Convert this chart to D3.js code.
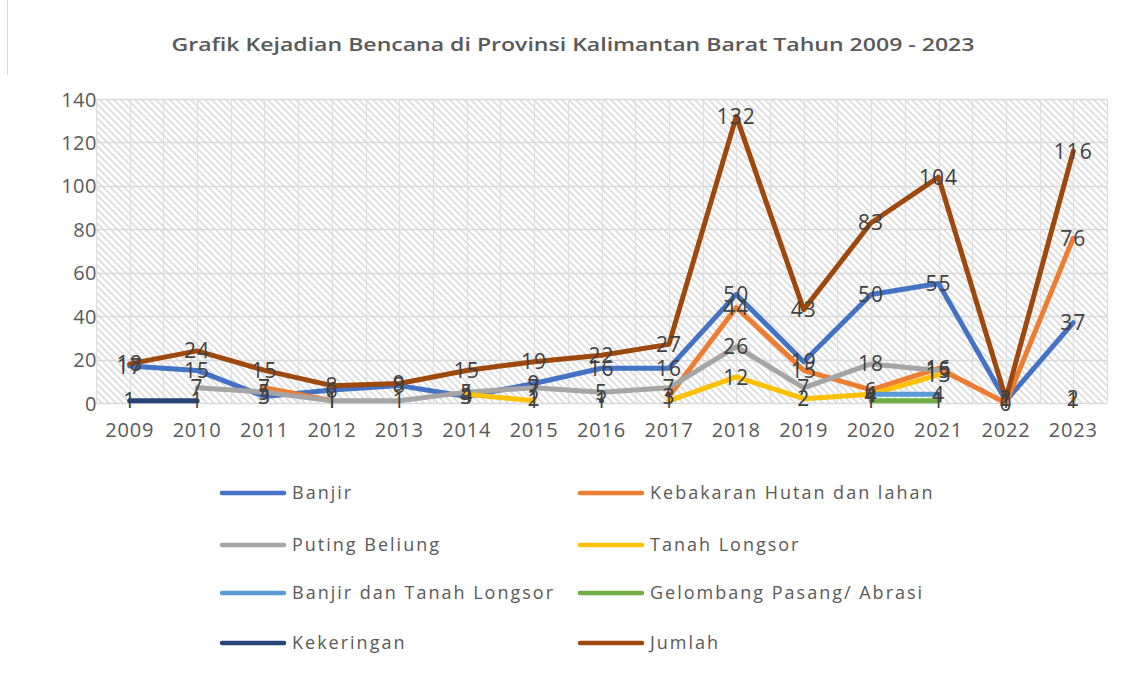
<!DOCTYPE html>
<html>
<head>
<meta charset="utf-8">
<script src="https://cdn.jsdelivr.net/npm/d3@7"></script>
<style>
  html, body { margin: 0; padding: 0; background: #fff; }
  svg text { font-family: "Open Sans", "Noto Sans", sans-serif; }
</style>
</head>
<body>
<svg id="chart" width="1129" height="680"></svg>
<script>
const title = "Grafik Kejadian Bencana di Provinsi Kalimantan Barat Tahun 2009 - 2023";
const years = ["2009","2010","2011","2012","2013","2014","2015","2016","2017","2018","2019","2020","2021","2022","2023"];
const yTicks = [0, 20, 40, 60, 80, 100, 120, 140];

const seriesNames = ["Banjir", "Kebakaran Hutan dan lahan", "Puting Beliung", "Tanah Longsor",
  "Banjir dan Tanah Longsor", "Gelombang Pasang/ Abrasi", "Kekeringan", "Jumlah"];
const seriesColors = ["#4472C4", "#ED7D31", "#A5A5A5", "#FFC000", "#5B9BD5", "#70AD47", "#264478", "#9E480E"];

const banjir          = [17, 15, 3, 6, 8, 3, 9, 16, 16, 50, 19, 50, 55, 1, 37];
const kebakaran       = [null, null, 7, 1, null, null, 2, null, 3, 44, 15, 6, 16, 0, 76];
const putingBeliung   = [null, 7, 5, 1, 1, 5, 7, 5, 7, 26, 7, 18, 15, null, 1];
const tanahLongsor    = [null, null, null, null, null, 4, 1, null, 1, 12, 2, 4, 13, null, 2];
const banjirTanahLongsor = [null, null, null, null, null, null, null, null, null, null, null, 4, 4, null, null];
const gelombang       = [null, null, null, null, null, null, null, null, null, null, null, 1, 1, null, null];
const kekeringan      = [1, 1, null, null, null, null, null, 1, null, null, null, null, null, null, null];
const jumlah          = [18, 24, 15, 8, 9, 15, 19, 22, 27, 132, 43, 83, 104, 2, 116];

const seriesValues = [banjir, kebakaran, putingBeliung, tanahLongsor, banjirTanahLongsor, gelombang, kekeringan, jumlah];

const svg = d3.select("#chart");
const plot = { left: 96, right: 1107, top: 99, bottom: 403 };

const x = d3.scaleBand().domain(years).range([plot.left, plot.right]).paddingInner(0).paddingOuter(0);
const y = d3.scaleLinear().domain([0, 140]).range([plot.bottom, plot.top]);
const cx = d => x(d) + x.bandwidth() / 2;

// left border line
svg.append("line").attr("x1", 7.5).attr("x2", 7.5).attr("y1", 0).attr("y2", 75)
  .attr("stroke", "#d9d9d9").attr("stroke-width", 1);

// title
svg.append("text").attr("x", 573).attr("y", 51).attr("text-anchor", "middle")
  .attr("font-size", 18).attr("fill", "#595959").attr("font-weight", 600)
  .attr("textLength", 803).attr("lengthAdjust", "spacingAndGlyphs")
  .text(title);

// hatch pattern
const defs = svg.append("defs");
const pat = defs.append("pattern").attr("id", "hatch").attr("patternUnits", "userSpaceOnUse")
  .attr("width", 7).attr("height", 7);
pat.append("rect").attr("width", 7).attr("height", 7).attr("fill", "#ffffff");
pat.append("path").attr("d", "M-1,-1 L8,8 M-1,6 L1,8 M6,-1 L8,1")
  .attr("stroke", "#dcdcdc").attr("stroke-width", 1.6);

svg.append("rect").attr("x", plot.left).attr("y", plot.top)
  .attr("width", plot.right - plot.left).attr("height", plot.bottom - plot.top)
  .attr("fill", "url(#hatch)");

// gridlines
const grid = svg.append("g");
yTicks.forEach(t => {
  grid.append("line").attr("x1", plot.left).attr("x2", plot.right)
    .attr("y1", Math.round(y(t)) + 0.5).attr("y2", Math.round(y(t)) + 0.5)
    .attr("stroke", "#d9d9d9").attr("stroke-width", 1.3);
});
const vx = [];
years.forEach(yr => { vx.push(x(yr)); vx.push(cx(yr)); });
vx.push(plot.right);
vx.forEach(v => {
  grid.append("line").attr("x1", Math.round(v) + 0.5).attr("x2", Math.round(v) + 0.5)
    .attr("y1", plot.top).attr("y2", plot.bottom)
    .attr("stroke", "#dedede").attr("stroke-width", 1.2);
});

// axes
const yAxis = svg.append("g").attr("transform", `translate(${plot.left + 1},0)`)
  .call(d3.axisLeft(y).tickValues(yTicks).tickSize(0).tickPadding(0));
yAxis.select(".domain").remove();
yAxis.selectAll("text").attr("font-size", 20).attr("fill", "#595959")
  .attr("font-family", "Open Sans, sans-serif").attr("dy", "0.35em").attr("letter-spacing", 0.5);

const xAxis = svg.append("g").attr("transform", `translate(0,${plot.bottom})`)
  .call(d3.axisBottom(x).tickSize(0).tickPadding(0));
xAxis.select(".domain").remove();
xAxis.selectAll("text").attr("font-size", 20).attr("fill", "#595959")
  .attr("font-family", "Open Sans, sans-serif").attr("y", 34).attr("dy", "0").attr("letter-spacing", 0.8);

// lines
const lineGen = d3.line()
  .defined(d => d.v !== null)
  .x(d => cx(d.year))
  .y(d => y(d.v));

const lines = svg.append("g");
seriesValues.forEach((vals, i) => {
  const data = years.map((yr, j) => ({ year: yr, v: vals[j] }));
  lines.append("path").datum(data)
    .attr("d", lineGen)
    .attr("fill", "none")
    .attr("stroke", seriesColors[i])
    .attr("stroke-width", 5)
    .attr("stroke-linejoin", "round")
    .attr("stroke-linecap", "round");
});

// data labels
const labels = svg.append("g");
seriesValues.forEach((vals, i) => {
  years.forEach((yr, j) => {
    if (vals[j] === null) return;
    labels.append("text")
      .attr("x", cx(yr)).attr("y", y(vals[j]))
      .attr("dy", "0.36em")
      .attr("text-anchor", "middle")
      .attr("font-size", 21)
      .attr("letter-spacing", 1)
      .attr("fill", "#404040")
      .text(vals[j]);
  });
});

// legend
const legendCols = [222, 580];
const legendRows = [493, 545, 593, 643];
const legend = svg.append("g");
seriesNames.forEach((name, i) => {
  const lx = legendCols[i % 2];
  const ly = legendRows[Math.floor(i / 2)];
  legend.append("line").attr("x1", lx).attr("x2", lx + 62).attr("y1", ly).attr("y2", ly)
    .attr("stroke", seriesColors[i]).attr("stroke-width", 4.5).attr("stroke-linecap", "round");
  legend.append("text").attr("x", lx + 70).attr("y", ly).attr("dy", "0.35em")
    .attr("font-size", 18).attr("fill", "#595959").attr("letter-spacing", 2)
    .text(name);
});
</script>
</body>
</html>
